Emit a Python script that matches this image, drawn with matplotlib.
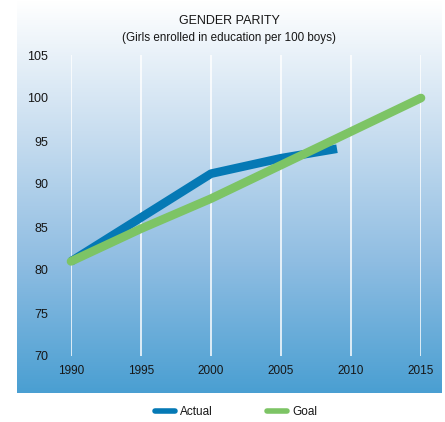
import numpy as np
import matplotlib.pyplot as plt
from matplotlib.colors import LinearSegmentedColormap
from matplotlib.lines import Line2D

# data
actual_years = [1990, 2000, 2005, 2009]
actual_values = [81, 91.2, 93, 94.1]
goal_years = [1990, 1995, 2000, 2005, 2010, 2015]
goal_values = [81, 84.8, 88.3, 92.2, 96.1, 100]
x_ticks = [1990, 1995, 2000, 2005, 2010, 2015]
y_ticks = [70, 75, 80, 85, 90, 95, 100, 105]

blue = '#0579b5'
green = '#7dc465'
ink = '#161616'
plt.rcParams['font.family'] = ['Liberation Sans', 'DejaVu Sans']

W, H = 445, 422
fig = plt.figure(figsize=(W / 100, H / 100), dpi=100)

# gradient panel behind the chart
bg = fig.add_axes([17 / W, (H - 393) / H, (442 - 17) / W, 393 / H])
cmap = LinearSegmentedColormap.from_list('bg', ['#ffffff', '#c9def0', '#8fbde2', '#4a9fd2'])
grad = np.linspace(0, 1, 256).reshape(-1, 1)
bg.imshow(grad, aspect='auto', cmap=cmap, extent=[0, 1, 0, 1], origin='upper')
bg.set_axis_off()

ax = fig.add_axes([71 / W, (H - 356) / H, 350 / W, 301 / H])
ax.patch.set_alpha(0)
ax.set_xlim(1990, 2015)
ax.set_ylim(70, 105)
for s in ax.spines.values():
    s.set_visible(False)

for x in x_ticks:
    ax.axvline(x, color='white', lw=1.1, zorder=1)

ax.plot(actual_years, actual_values, color=blue, lw=6.2, solid_capstyle='butt',
        solid_joinstyle='round', zorder=2, clip_on=False)
ax.plot(goal_years, goal_values, color=green, lw=6.2, solid_capstyle='round',
        solid_joinstyle='round', zorder=3, clip_on=False)

ax.set_xticks(x_ticks)
ax.set_yticks(y_ticks)
ax.tick_params(length=0)
ax.tick_params(axis='y', pad=16.5, labelsize=9, labelcolor=ink)
ax.tick_params(axis='x', pad=6.5, labelsize=8.5, labelcolor=ink)

fig.text(229 / W, 1 - 21 / H, 'GENDER PARITY', ha='center', va='center',
         fontsize=9, color=ink)
fig.text(229 / W, 1 - 38 / H, '(Girls enrolled in education per 100 boys)', ha='center',
         va='center', fontsize=8.4, color=ink)

handles = [Line2D([], [], color=blue, lw=4, solid_capstyle='round'),
           Line2D([], [], color=green, lw=4, solid_capstyle='round')]
leg = fig.legend(handles, ['Actual', 'Goal'], loc='center', bbox_to_anchor=(236 / W, 1 - 412 / H),
                 ncol=2, frameon=False, handlelength=1.7, columnspacing=4.6, handletextpad=0.45,
                 prop={'size': 8.5}, labelcolor=ink)

fig.savefig('out.png', dpi=100)
